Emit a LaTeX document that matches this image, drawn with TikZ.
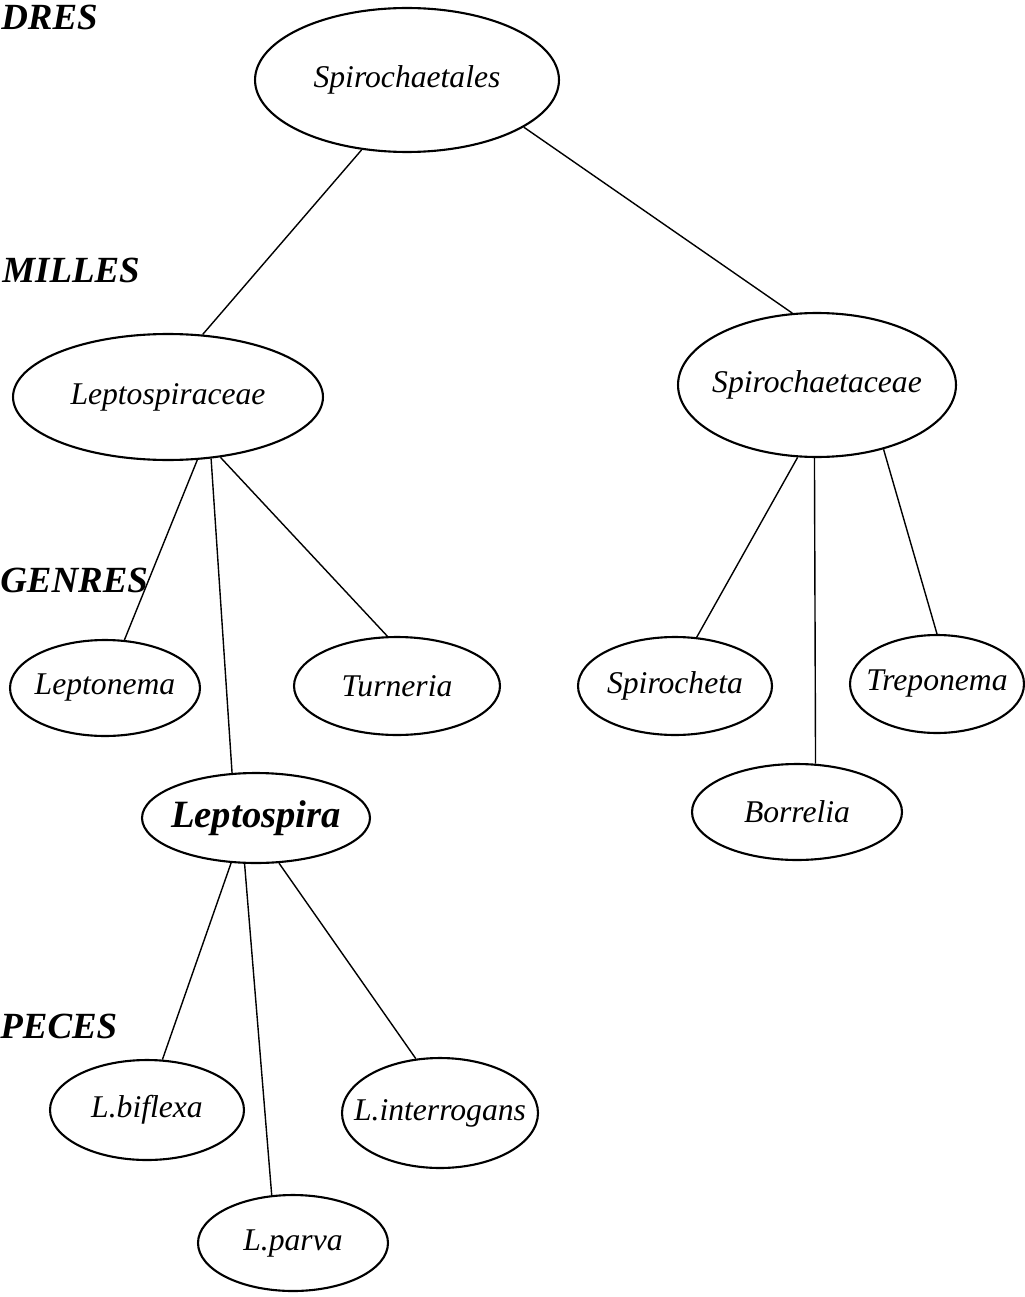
\documentclass[tikz,border=0pt]{standalone}
\usepackage{fontspec}
\setmainfont{Liberation Serif}
\usepackage{tikz}
\usetikzlibrary{shapes.geometric}

\begin{document}
\begin{tikzpicture}[
    x=0.02cm, y=-0.02cm,
    taxon/.style={ellipse, draw, line width=1.2pt, inner sep=0pt, font=\itshape\fontsize{18}{21}\selectfont},
    rank/.style={anchor=base west, inner sep=0pt, font=\bfseries\itshape\fontsize{21}{24}\selectfont},
    branch/.style={line width=0.8pt}
]
    \useasboundingbox (0,0) rectangle (1024,1297);

    % Ranks
    \node[rank] (ordres) at (1,30) {DRES};
    \node[rank] (familles) at (2,283) {MILLES};
    \node[rank] (genres) at (0,592) {GENRES};
    \node[rank] (especes) at (0,1038) {PECES};

    % Order and families
    \node[taxon, minimum width=6.08cm, minimum height=2.88cm] (sorder) at (407,80) {\makebox[0pt]{Spirochaetales}};
    \node[taxon, minimum width=6.2cm, minimum height=2.52cm] (lfam) at (168,397) {\makebox[0pt]{Leptospiraceae}};
    \node[taxon, minimum width=5.56cm, minimum height=2.88cm] (sfam) at (817,385) {\makebox[0pt]{Spirochaetaceae}};

    % Genres
    \node[taxon, minimum width=3.8cm, minimum height=1.92cm] (lnema) at (105,688) {\makebox[0pt]{Leptonema}};
    \node[taxon, minimum width=4.12cm, minimum height=1.96cm] (turn) at (397,686) {\makebox[0pt]{Turneria}};
    \node[taxon, minimum width=4.56cm, minimum height=1.8cm, font=\bfseries\itshape\fontsize{22}{26}\selectfont] (lspira) at (256,818) {\makebox[0pt]{Leptospira}};
    \node[taxon, minimum width=3.88cm, minimum height=1.96cm] (spcheta) at (675,686) {\makebox[0pt]{Spirocheta}};
    \node[taxon, minimum width=3.48cm, minimum height=1.96cm] (trep) at (937,684) {\makebox[0pt]{Treponema}};
    \node[taxon, minimum width=4.2cm, minimum height=1.92cm] (borr) at (797,812) {\makebox[0pt]{Borrelia}};

    % Especes
    \node[taxon, minimum width=3.88cm, minimum height=2cm] (lbif) at (147,1110) {\makebox[0pt]{L.biflexa}};
    \node[taxon, minimum width=3.92cm, minimum height=2.2cm] (linter) at (440,1113) {\makebox[0pt]{L.interrogans}};
    \node[taxon, minimum width=3.8cm, minimum height=1.92cm] (lparva) at (293,1243) {\makebox[0pt]{L.parva}};

    % Branches
    \foreach \from/\to in {sorder.237/lfam.61, sorder.338/sfam.109,
        lfam.295/lnema.68, lfam.305/lspira.118, lfam.311/turn.101,
        sfam.255/spcheta.66, sfam.268/borr.69, sfam.316/trep.90,
        lspira.241/lbif.73, lspira.256/lparva.114, lspira.297/linter.114}
        \draw[branch] (\from) -- (\to);
\end{tikzpicture}
\end{document}
